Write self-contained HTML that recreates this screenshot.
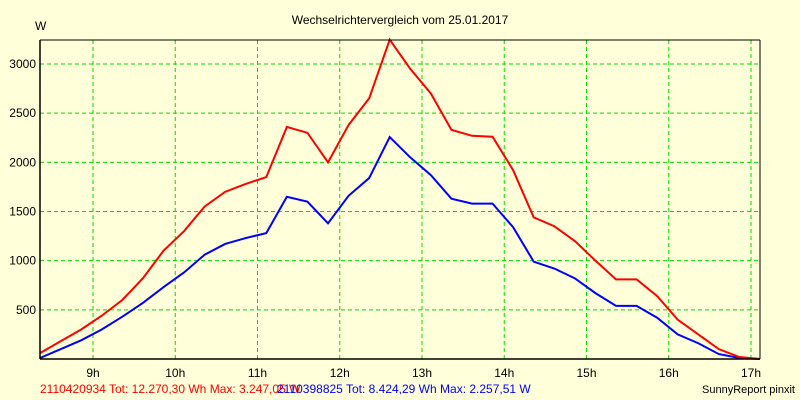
<!DOCTYPE html>
<html><head><meta charset="utf-8"><style>
body{margin:0;background:#ffffd9;}
svg{display:block;font-family:"Liberation Sans",sans-serif;font-size:12px;}
</style></head><body>
<svg width="800" height="400">
<rect x="0" y="0" width="800" height="400" fill="#ffffd9"/>
<text x="400" y="24" text-anchor="middle">Wechselrichtervergleich vom 25.01.2017</text>
<text x="35" y="30">W</text>
<g id="grid"></g>
<g id="series"></g>
<line x1="40" y1="40" x2="760" y2="40" stroke="#000"/>
<line x1="760" y1="40" x2="760" y2="359" stroke="#000"/>
<line x1="40" y1="40" x2="40" y2="359" stroke="#000" stroke-width="1.5"/>
<line x1="40" y1="359" x2="760" y2="359" stroke="#000" stroke-width="1.5"/>
<text x="40" y="393" fill="#ff0000">2110420934 Tot: 12.270,30 Wh Max: 3.247,05 W</text>
<text x="277" y="393" fill="#0000ff">2110398825 Tot: 8.424,29 Wh Max: 2.257,51 W</text>
<text x="795" y="393" text-anchor="end" font-size="11">SunnyReport pinxit</text>
</svg>
<script>
const yTicks=[500,1000,1500,2000,2500,3000];
const xTickLabels=["9h","10h","11h","12h","13h","14h","15h","16h","17h"];
const xTickHours=[9,10,11,12,13,14,15,16,17];
const redValues=[60,180,300,440,600,820,1100,1300,1550,1700,1780,1850,2360,2300,2000,2380,2650,3247,2950,2700,2330,2270,2260,1920,1440,1350,1200,1000,810,810,640,400,250,100,20,0];
const blueValues=[10,100,190,300,430,570,730,880,1060,1170,1230,1280,1650,1600,1380,1660,1840,2257,2050,1870,1630,1580,1580,1340,990,920,820,670,540,540,420,250,160,50,10,0];
const NS="http://www.w3.org/2000/svg";
const X0=40,X1=760,Y0=359,YPER=295/3000;
const startHour=8+(40-93+82.25)/82.25;
function yScale(v){return Y0-v*YPER;}
function xHour(h){return 93+(h-9)*82.25;}
function xIdx(i){return X0+i*(X1-X0)/(redValues.length-1);}
const grid=document.getElementById('grid');
yTicks.forEach(v=>{
 const l=document.createElementNS(NS,'line');
 
 
 l.setAttribute('x1',X0);l.setAttribute('x2',X1);l.setAttribute('y1',yScale(v));l.setAttribute('y2',yScale(v));
 l.setAttribute('stroke','#00dd00');l.setAttribute('stroke-dasharray','4,3');
 grid.appendChild(l);
 const t=document.createElementNS(NS,'text');
 
 
 t.setAttribute('x',36);t.setAttribute('y',yScale(v)+4);t.setAttribute('text-anchor','end');
 t.textContent=v;grid.appendChild(t);
});
xTickHours.forEach((h,i)=>{
 const x=xHour(h);
 const l=document.createElementNS(NS,'line');
 
 
 l.setAttribute('x1',x);l.setAttribute('x2',x);l.setAttribute('y1',40);l.setAttribute('y2',Y0);
 l.setAttribute('stroke','#00dd00');l.setAttribute('stroke-dasharray','4,3');
 grid.appendChild(l);
 const t=document.createElementNS(NS,'text');
 
 
 t.setAttribute('x',x);t.setAttribute('y',377);t.setAttribute('text-anchor','middle');
 t.textContent=xTickLabels[i];grid.appendChild(t);
});
const series=document.getElementById('series');
[[blueValues,'#0000ff','blue-series-line'],[redValues,'#ff0000','red-series-line']].forEach(([vals,c,n])=>{
 const p=document.createElementNS(NS,'polyline');
 
 
 p.setAttribute('points',vals.map((v,i)=>xIdx(i)+','+yScale(v)).join(' '));
 p.setAttribute('fill','none');p.setAttribute('stroke',c);p.setAttribute('stroke-width','2');
 series.appendChild(p);
});
</script>
</body></html>
